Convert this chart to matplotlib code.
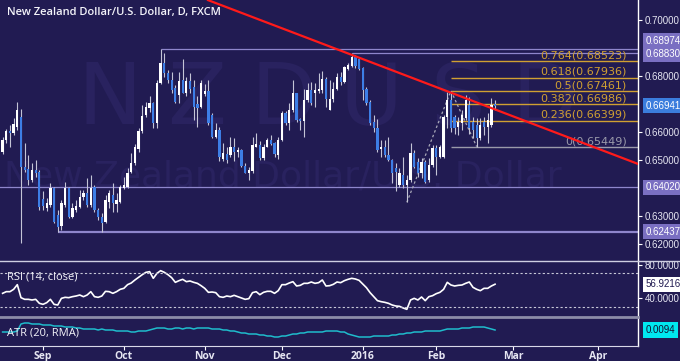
import numpy as np
import pandas as pd
import matplotlib
matplotlib.use('Agg')
import matplotlib.pyplot as plt
import matplotlib.transforms as mtransforms
from matplotlib.lines import Line2D
from matplotlib.ticker import FormatStrFormatter, FixedLocator

# daily NZD/USD candles, 17 Aug 2015 - 23 Feb 2016
opens = [0.6529, 0.6571, 0.6602, 0.6598, 0.6619, 0.6655, 0.6476, 0.6467, 0.6429, 0.6464,
         0.6458, 0.6360, 0.6327, 0.6339, 0.6399, 0.6302, 0.6265, 0.6340, 0.6399, 0.6298,
         0.6320, 0.6333, 0.6367, 0.6381, 0.6340, 0.6405, 0.6321, 0.6298, 0.6280, 0.6350,
         0.6375, 0.6343, 0.6351, 0.6400, 0.6405, 0.6457, 0.6488, 0.6540, 0.6605, 0.6660,
         0.6685, 0.6705, 0.6631, 0.6774, 0.6845, 0.6810, 0.6786, 0.6758, 0.6732, 0.6786,
         0.6741, 0.6781, 0.6760, 0.6700, 0.6690, 0.6735, 0.6745, 0.6660, 0.6583, 0.6607,
         0.6505, 0.6520, 0.6518, 0.6545, 0.6530, 0.6537, 0.6480, 0.6455, 0.6460, 0.6548,
         0.6555, 0.6507, 0.6548, 0.6570, 0.6560, 0.6518, 0.6570, 0.6667, 0.6631, 0.6679,
         0.6738, 0.6648, 0.6640, 0.6714, 0.6750, 0.6738, 0.6745, 0.6750, 0.6788, 0.6679,
         0.6717, 0.6752, 0.6798, 0.6780, 0.6825, 0.6836, 0.6867, 0.6860, 0.6830, 0.6755,
         0.6708, 0.6637, 0.6613, 0.6540, 0.6546, 0.6518, 0.6500, 0.6472, 0.6411, 0.6446,
         0.6411, 0.6429, 0.6524, 0.6494, 0.6452, 0.6494, 0.6429, 0.6482, 0.6542, 0.6512,
         0.6512, 0.6655, 0.6714, 0.6655, 0.6619, 0.6631, 0.6649, 0.6696, 0.6637, 0.6625,
         0.6577, 0.6637, 0.6619, 0.6625, 0.6701]
highs = [0.6582, 0.6610, 0.6625, 0.6650, 0.6706, 0.6683, 0.6559, 0.6518, 0.6488, 0.6500,
         0.6464, 0.6390, 0.6365, 0.6417, 0.6405, 0.6321, 0.6357, 0.6420, 0.6405, 0.6345,
         0.6357, 0.6393, 0.6393, 0.6435, 0.6445, 0.6411, 0.6327, 0.6310, 0.6375, 0.6393,
         0.6417, 0.6381, 0.6411, 0.6440, 0.6470, 0.6524, 0.6557, 0.6614, 0.6696, 0.6708,
         0.6730, 0.6708, 0.6786, 0.6897, 0.6881, 0.6822, 0.6815, 0.6768, 0.6815, 0.6860,
         0.6798, 0.6810, 0.6786, 0.6727, 0.6786, 0.6770, 0.6786, 0.6667, 0.6631, 0.6619,
         0.6560, 0.6545, 0.6583, 0.6577, 0.6548, 0.6540, 0.6488, 0.6476, 0.6583, 0.6595,
         0.6567, 0.6557, 0.6577, 0.6590, 0.6565, 0.6583, 0.6675, 0.6675, 0.6705, 0.6786,
         0.6740, 0.6650, 0.6755, 0.6774, 0.6780, 0.6774, 0.6810, 0.6817, 0.6798, 0.6786,
         0.6780, 0.6810, 0.6815, 0.6836, 0.6845, 0.6883, 0.6874, 0.6867, 0.6833, 0.6762,
         0.6714, 0.6660, 0.6648, 0.6570, 0.6570, 0.6583, 0.6505, 0.6488, 0.6470, 0.6512,
         0.6446, 0.6560, 0.6536, 0.6506, 0.6506, 0.6500, 0.6506, 0.6554, 0.6554, 0.6554,
         0.6661, 0.6744, 0.6747, 0.6661, 0.6655, 0.6679, 0.6732, 0.6726, 0.6655, 0.6649,
         0.6649, 0.6655, 0.6667, 0.6720, 0.6714]
lows = [0.6521, 0.6559, 0.6548, 0.6590, 0.6607, 0.6202, 0.6458, 0.6411, 0.6423, 0.6440,
        0.6321, 0.6321, 0.6318, 0.6333, 0.6274, 0.6244, 0.6250, 0.6333, 0.6292, 0.6292,
        0.6315, 0.6327, 0.6357, 0.6333, 0.6333, 0.6315, 0.6286, 0.6244, 0.6274, 0.6327,
        0.6315, 0.6315, 0.6345, 0.6395, 0.6399, 0.6452, 0.6482, 0.6528, 0.6595, 0.6655,
        0.6670, 0.6613, 0.6613, 0.6770, 0.6798, 0.6774, 0.6738, 0.6702, 0.6702, 0.6738,
        0.6727, 0.6738, 0.6643, 0.6619, 0.6684, 0.6728, 0.6625, 0.6577, 0.6577, 0.6495,
        0.6495, 0.6488, 0.6512, 0.6495, 0.6512, 0.6476, 0.6452, 0.6429, 0.6455, 0.6545,
        0.6500, 0.6500, 0.6545, 0.6555, 0.6512, 0.6505, 0.6567, 0.6625, 0.6607, 0.6672,
        0.6636, 0.6607, 0.6583, 0.6708, 0.6696, 0.6690, 0.6738, 0.6738, 0.6690, 0.6678,
        0.6708, 0.6750, 0.6768, 0.6774, 0.6820, 0.6833, 0.6830, 0.6820, 0.6714, 0.6696,
        0.6625, 0.6600, 0.6530, 0.6512, 0.6512, 0.6495, 0.6417, 0.6390, 0.6402, 0.6400,
        0.6349, 0.6423, 0.6470, 0.6440, 0.6435, 0.6417, 0.6423, 0.6476, 0.6446, 0.6506,
        0.6506, 0.6613, 0.6601, 0.6594, 0.6589, 0.6607, 0.6643, 0.6594, 0.6577, 0.6548,
        0.6571, 0.6589, 0.6560, 0.6619, 0.6679]
closes = [0.6571, 0.6602, 0.6595, 0.6627, 0.6679, 0.6476, 0.6465, 0.6429, 0.6464, 0.6455,
          0.6333, 0.6336, 0.6345, 0.6399, 0.6280, 0.6262, 0.6345, 0.6399, 0.6298, 0.6327,
          0.6336, 0.6369, 0.6381, 0.6340, 0.6399, 0.6321, 0.6298, 0.6274, 0.6357, 0.6381,
          0.6345, 0.6357, 0.6405, 0.6412, 0.6452, 0.6488, 0.6545, 0.6605, 0.6657, 0.6690,
          0.6705, 0.6631, 0.6776, 0.6845, 0.6810, 0.6786, 0.6750, 0.6708, 0.6783, 0.6741,
          0.6781, 0.6755, 0.6690, 0.6685, 0.6774, 0.6745, 0.6631, 0.6583, 0.6607, 0.6512,
          0.6524, 0.6500, 0.6548, 0.6530, 0.6536, 0.6479, 0.6455, 0.6465, 0.6555, 0.6557,
          0.6507, 0.6548, 0.6571, 0.6558, 0.6520, 0.6570, 0.6667, 0.6631, 0.6679, 0.6738,
          0.6643, 0.6640, 0.6714, 0.6750, 0.6702, 0.6750, 0.6755, 0.6788, 0.6717, 0.6717,
          0.6752, 0.6798, 0.6780, 0.6833, 0.6838, 0.6867, 0.6836, 0.6825, 0.6750, 0.6702,
          0.6631, 0.6613, 0.6536, 0.6546, 0.6518, 0.6500, 0.6455, 0.6456, 0.6452, 0.6411,
          0.6429, 0.6524, 0.6476, 0.6452, 0.6494, 0.6423, 0.6482, 0.6542, 0.6510, 0.6548,
          0.6655, 0.6714, 0.6613, 0.6613, 0.6637, 0.6661, 0.6714, 0.6613, 0.6607, 0.6577,
          0.6625, 0.6619, 0.6643, 0.6696, 0.6694]

rsi = [46, 48, 48, 50.8, 56.4, 40.8, 38.8, 38.8, 38, 38.8,
       34, 32.8, 34.8, 38.8, 32.8, 32, 40, 41.2, 40.8, 42,
       42.8, 44, 42, 44, 48, 42, 41.2, 42.8, 48.4, 48,
       46, 48, 50.8, 52, 56.4, 58.4, 62, 65.2, 68.4, 71.2,
       72, 64, 70, 73.2, 71.2, 68.4, 64.8, 59.2, 61.2, 62.8,
       60, 60.8, 59.2, 58, 55.2, 52, 47.2, 47.6, 46.8, 42,
       41.2, 42.8, 42, 43.6, 42, 40.4, 38.8, 39.6, 46.8, 48,
       44.4, 47.2, 48.4, 48.4, 46, 49.2, 56.4, 56.4, 58.4, 60,
       54.8, 55.6, 58, 58, 59.6, 58, 58.8, 62, 54.8, 55.2,
       56.8, 59.6, 58.8, 61.2, 62.8, 64, 63.2, 61.6, 57.2, 52.8,
       46.8, 42, 37.2, 36, 35.2, 34, 32, 30.8, 30.4, 28.4,
       26.8, 38, 40, 38, 41.6, 37.2, 42, 43.2, 45.6, 47.2,
       50.8, 59.2, 56, 54.8, 55.6, 56, 58, 59.6, 53.2, 50.8,
       49.2, 52, 52, 54.8, 56.92]

atr = [0.0092, 0.0092, 0.0092, 0.0092, 0.0093, 0.0100, 0.0101, 0.0101, 0.0100, 0.0100,
       0.0100, 0.0099, 0.0099, 0.0099, 0.0098, 0.0098, 0.0098, 0.0097, 0.0097, 0.0097,
       0.0096, 0.0096, 0.0095, 0.0095, 0.0095, 0.0095, 0.0094, 0.0095, 0.0094, 0.0094,
       0.0094, 0.0093, 0.0093, 0.0093, 0.0093, 0.0092, 0.0092, 0.0093, 0.0093, 0.0093,
       0.0094, 0.0095, 0.0096, 0.0096, 0.0096, 0.0095, 0.0095, 0.0096, 0.0096, 0.0095,
       0.0096, 0.0096, 0.0095, 0.0096, 0.0096, 0.0096, 0.0096, 0.0095, 0.0095, 0.0095,
       0.0094, 0.0094, 0.0093, 0.0093, 0.0092, 0.0091, 0.0091, 0.0090, 0.0090, 0.0090,
       0.0089, 0.0089, 0.0088, 0.0088, 0.0087, 0.0087, 0.0088, 0.0088, 0.0089, 0.0090,
       0.0090, 0.0091, 0.0091, 0.0092, 0.0092, 0.0092, 0.0092, 0.0092, 0.0093, 0.0093,
       0.0093, 0.0093, 0.0092, 0.0092, 0.0090, 0.0089, 0.0088, 0.0087, 0.0087, 0.0087,
       0.0087, 0.0088, 0.0088, 0.0088, 0.0088, 0.0088, 0.0089, 0.0089, 0.0090, 0.0090,
       0.0091, 0.0091, 0.0092, 0.0092, 0.0092, 0.0093, 0.0093, 0.0093, 0.0093, 0.0093,
       0.0094, 0.0095, 0.0095, 0.0095, 0.0095, 0.0096, 0.0096, 0.0096, 0.0097, 0.0097,
       0.0097, 0.0097, 0.0096, 0.0095, 0.0094]

fib_ratios = ['0.764', '0.618', '0.5', '0.382', '0.236', '0']
fib_prices = [0.68523, 0.67936, 0.67461, 0.66986, 0.66399, 0.65449]
fib_start = 122  # bar of the swing high
swing_bars = [110, 122, 129]

levels = [0.68974, 0.68830, 0.64020, 0.62437]
level_start = [43, 95, -1, 15]
trend_x = [55.9, 172.9]
trend_y = [0.7071, 0.6486]

price_ticks = [0.70, 0.68, 0.66, 0.65, 0.63, 0.62]
last_price = 0.66941

# trading days (FXCM skips Christmas and New Year)
days = pd.bdate_range('2015-08-17', '2016-04-08')
days = days[~days.isin(pd.to_datetime(['2015-12-25', '2016-01-01']))]
month_starts = ['2015-09-01', '2015-10-01', '2015-11-01', '2015-12-01',
                '2016-01-01', '2016-02-01', '2016-03-01', '2016-04-01']
month_labels = ['Sep', 'Oct', 'Nov', 'Dec', '2016', 'Feb', 'Mar', 'Apr']
month_pos = [int(np.searchsorted(days, pd.Timestamp(m))) for m in month_starts]

bg = '#211b52'
up_col = '#ffffff'
dn_col = '#3d7ee6'
lvl_col = '#8e86cc'
gold = '#d0a032'
txt = '#e6e6f2'
num_font = ['Liberation Sans', 'DejaVu Sans']

plt.rcParams['font.family'] = ['Open Sans', 'DejaVu Sans']

fig = plt.figure(figsize=(6.8, 3.61), dpi=100, facecolor=bg)
W, H = 680, 361
axw = 638 / W
ax = fig.add_axes([0, 1 - 261 / H, axw, 261 / H], facecolor=bg)
ax_r = fig.add_axes([0, 1 - 317 / H, axw, 56 / H], facecolor=bg, sharex=ax)
ax_a = fig.add_axes([0, 1 - 346 / H, axw, 29 / H], facecolor=bg, sharex=ax)

x = np.arange(len(closes))
o = np.array(opens)
c = np.array(closes)
colors = np.where(c >= o, up_col, dn_col)

# watermark
for k, ch in enumerate('NZDUSD'):
    ax.text((110 + 87 * k) / 638, 1 - 101 / 261, ch, transform=ax.transAxes, ha='center',
            va='center', fontsize=62, color='#29225f', family='DejaVu Sans', zorder=0)
ax.text(4 / 638, 1 - 176 / 261, 'New Zealand Dollar/U.S. Dollar', transform=ax.transAxes,
        ha='left', va='center', fontsize=26, color='#29225f', family='DejaVu Sans', zorder=0)

# horizontal levels
for lv, st in zip(levels, level_start):
    lw = 1.6 if lv == 0.62437 else 0.9
    ax.hlines(lv, st if st >= 0 else -5, 200, color=lvl_col, lw=lw, zorder=1)

# fibonacci
for r, p in zip(fib_ratios, fib_prices):
    col = '#9a9aaa' if r == '0' else gold
    ax.hlines(p, fib_start, 200, color=col, lw=1.0, zorder=1)
    ax.annotate(f'{r}({p:.5f})', (169.9, p), xytext=(0, 0.6), textcoords='offset points',
                ha='right', va='bottom', fontsize=8, color=col, family='DejaVu Sans', zorder=2)
ax.plot(swing_bars, [lows[swing_bars[0]], highs[swing_bars[1]], lows[swing_bars[2]]],
        color='#a8a8b8', lw=0.9, ls=(0, (2, 2)), zorder=2)

# candles
ax.vlines(x, lows, highs, color='#c4c4d6', lw=0.8, zorder=3)
ax.bar(x, np.maximum(np.abs(c - o), 0.00012), bottom=np.minimum(o, c), width=0.62,
       color=colors, lw=0, zorder=4)

ax.plot(trend_x, trend_y, color='#ff1a1a', lw=1.6, zorder=5)

ax.set_xlim(-0.71, 172.9)
ax.set_ylim(0.70 - 241 / 2800, 0.70 + 20 / 2800)

ax.text(7 / 638, 1 - 13 / 261, 'New Zealand Dollar/U.S. Dollar, D, FXCM', transform=ax.transAxes,
        ha='left', va='center', fontsize=8, fontweight='semibold', color='#f4f4fa')

# RSI panel
ax_r.plot(x, rsi, color='#ffffff', lw=1.2)
for lv in (70, 30):
    ax_r.axhline(lv, color='#c8c8d8', lw=0.8, ls=(0, (2, 2)))
ax_r.set_ylim(17.6, 84.8)
ax_r.text(7 / 638, 0.72, 'RSI (14, close)', transform=ax_r.transAxes, ha='left', va='center',
          fontsize=8, color='#f4f4fa')

# ATR panel
ax_a.plot(x, atr, color='#1fbccc', lw=1.1)
ax_a.set_ylim(0.0078, 0.0107)
ax_a.text(7 / 638, 0.45, 'ATR (20, RMA)', transform=ax_a.transAxes, ha='left', va='center',
          fontsize=8, color='#f4f4fa')

for a in (ax, ax_r, ax_a):
    for s in ('left', 'top', 'bottom'):
        a.spines[s].set_visible(False)
    a.spines['right'].set_color('#ffffff')
    a.spines['right'].set_linewidth(1.0)
    a.yaxis.tick_right()
    a.tick_params(axis='y', colors='#ffffff', labelcolor=txt, length=3, width=0.8,
                  labelsize=7, pad=2)
    a.tick_params(axis='x', bottom=False, labelbottom=False)

ax.yaxis.set_major_locator(FixedLocator(price_ticks))
ax.yaxis.set_major_formatter(FormatStrFormatter('%.5f'))
ax_r.yaxis.set_major_locator(FixedLocator([80, 40]))
ax_r.yaxis.set_major_formatter(FormatStrFormatter('%.4f'))
ax_a.yaxis.set_major_locator(FixedLocator([]))

ax_a.spines['bottom'].set_visible(True)
ax_a.spines['bottom'].set_color('#d8d8e8')
ax_a.xaxis.set_major_locator(FixedLocator(month_pos))
ax_a.set_xticklabels(month_labels)
ax_a.tick_params(axis='x', bottom=True, labelbottom=True, colors='#ffffff', labelcolor=txt,
                 length=3, width=0.8, labelsize=7.5, pad=0.5)
for lab in ax_a.get_xticklabels():
    lab.set_fontweight('bold')
for lab in ax.get_yticklabels() + ax_r.get_yticklabels():
    lab.set_family(num_font)

# panel separators
fig.add_artist(Line2D([0, 1], [1 - 261 / H] * 2, color='#cfcfe2', lw=1.0))
fig.add_artist(Line2D([0, axw], [1 - 317 / H] * 2, color='#8c8ca8', lw=2.0))


def tag(a, y, s, fc, tc):
    tr = mtransforms.blended_transform_factory(a.transAxes, a.transData)
    a.text(1.012, y, s, transform=tr, ha='left', va='center', fontsize=7, color=tc,
           family=num_font, clip_on=False, zorder=10,
           bbox=dict(boxstyle='square,pad=0.28', fc=fc, ec='none'))


tag(ax, 0.6925, '0.68974', '#7a6fc2', '#ffffff')
tag(ax, 0.6879, '0.68830', '#7a6fc2', '#ffffff')
tag(ax, last_price, f'{last_price:.5f}', '#3b7ddd', '#ffffff')
tag(ax, levels[2], '0.64020', '#7a6fc2', '#ffffff')
tag(ax, levels[3], '0.62437', '#7a6fc2', '#ffffff')
tag(ax_r, 56.92, '56.9216', '#ffffff', '#201a50')
tag(ax_a, atr[-1], '0.0094', '#00e8f0', '#101030')

fig.savefig('out.png', dpi=100, facecolor=bg)
